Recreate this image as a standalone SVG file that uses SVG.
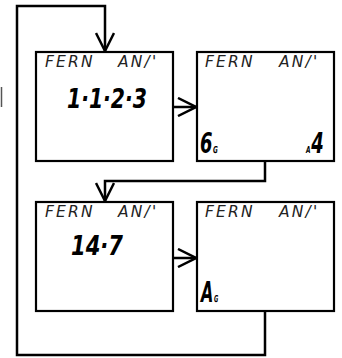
<svg xmlns="http://www.w3.org/2000/svg" width="342" height="358" viewBox="0 0 342 358">
<defs>
<style>
.box{fill:#fff;stroke:#000;stroke-width:2.2}
.con{fill:none;stroke:#000;stroke-width:2.5}
.hdr{font-family:"DejaVu Sans",sans-serif;font-style:oblique;font-size:15.5px;letter-spacing:2.2px;fill:#222}
.big{font-family:"DejaVu Sans",sans-serif;font-style:oblique;font-weight:bold;font-size:26px;fill:#000}
.lg{font-size:29px}
.sub{font-family:"DejaVu Sans",sans-serif;font-style:oblique;font-weight:bold;font-size:9.5px;fill:#000}
</style>
<marker id="ah" viewBox="-20 -10 22 20" refX="0" refY="0" markerWidth="22" markerHeight="20" markerUnits="userSpaceOnUse" orient="auto">
<path d="M-18,-9 L0,0 L-18,9" fill="none" stroke="#000" stroke-width="2.5"/>
</marker>
</defs>
<line x1="1.5" y1="87" x2="1.5" y2="107" stroke="#555" stroke-width="1.5"/>
<g id="connectors">
<path class="con" d="M265,311 V355 H17 V6 H105 V51" marker-end="url(#ah)"/>
<path class="con" d="M265,161 V181 H105 V201" marker-end="url(#ah)"/>
<path class="con" d="M173,107 H196" marker-end="url(#ah)"/>
<path class="con" d="M173,258 H196" marker-end="url(#ah)"/>
</g>
<g id="node1">
<rect class="box" x="36" y="52" width="137" height="109"/>
<text class="hdr" x="45" y="67">FERN<tspan x="118">AN/'</tspan></text>
<text class="big" x="67" y="108" textLength="80" lengthAdjust="spacingAndGlyphs">1·1·2·3</text>
</g>
<g id="node2">
<rect class="box" x="197" y="52" width="137" height="109"/>
<text class="hdr" x="205" y="67">FERN<tspan x="279">AN/'</tspan></text>
<text class="big lg" transform="translate(200,153) scale(0.62,1)">6<tspan class="sub" dx="1">G</tspan></text>
<text class="big lg" transform="translate(306,153) scale(0.62,1)"><tspan class="sub">A</tspan><tspan dx="1">4</tspan></text>
</g>
<g id="node3">
<rect class="box" x="36" y="202" width="137" height="109"/>
<text class="hdr" x="45" y="217">FERN<tspan x="118">AN/'</tspan></text>
<text class="big" x="71" y="255" textLength="52" lengthAdjust="spacingAndGlyphs">14·7</text>
</g>
<g id="node4">
<rect class="box" x="197" y="202" width="137" height="109"/>
<text class="hdr" x="205" y="217">FERN<tspan x="279">AN/'</tspan></text>
<text class="big lg" transform="translate(201,302) scale(0.55,1)">A<tspan class="sub" dx="1">G</tspan></text>
</g>
</svg>
